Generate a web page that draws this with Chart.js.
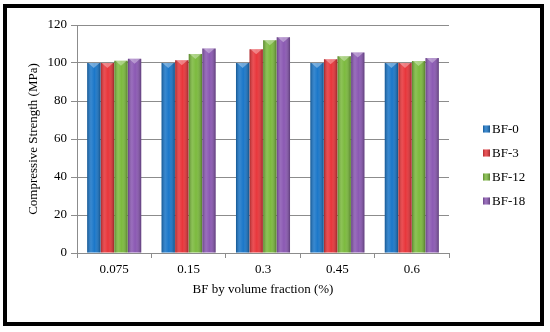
<!DOCTYPE html>
<html>
<head>
<meta charset="utf-8">
<script src="https://cdn.jsdelivr.net/npm/chart.js@4/dist/chart.umd.min.js"></script>
<style>
html,body{margin:0;padding:0;background:#fff;}
#wrap{width:550px;height:332px;position:relative;}
</style>
</head>
<body>
<div id="wrap"><canvas id="c" width="550" height="332"></canvas></div>
<script>
const categories = ["0.075", "0.15", "0.3", "0.45", "0.6"];
const seriesNames = ["BF-0", "BF-3", "BF-12", "BF-18"];
const bf0  = [100, 100, 100, 100, 100];
const bf3  = [100, 101.5, 107.2, 102, 100];
const bf12 = [101.2, 104.8, 112, 103.6, 101];
const bf18 = [102.2, 107.6, 113.6, 105.5, 102.6];
const seriesColors = ["#1b77c9", "#e8363b", "#7cba3e", "#8b59b3"];

const SERIF = "'Times New Roman', 'Liberation Serif', serif";

const framePlugin = {
  id: 'frame',
  afterDraw(chart) {
    const ctx = chart.ctx;
    ctx.save();
    ctx.strokeStyle = '#000';
    ctx.lineWidth = 4;
    ctx.strokeRect(5, 6, 537, 318);
    ctx.restore();
  }
};

const legendPlugin = {
  id: 'sideLegend',
  afterDraw(chart) {
    const ctx = chart.ctx;
    ctx.save();
    ctx.font = '13px ' + SERIF;
    ctx.textBaseline = 'middle';
    ctx.textAlign = 'left';
    chart.data.datasets.forEach((ds, i) => {
      const y = 129 + i * 24;
      const bx = chart.chartArea.right + 34;
      ctx.fillStyle = ds.backgroundColor;
      ctx.fillRect(bx, y - 3.5, 7, 7);
      const g = ctx.createLinearGradient(bx, 0, bx + 7, 0);
      g.addColorStop(0, 'rgba(0,0,0,0.25)');
      g.addColorStop(0.4, 'rgba(255,255,255,0.15)');
      g.addColorStop(1, 'rgba(0,0,0,0.3)');
      ctx.fillStyle = g;
      ctx.fillRect(bx, y - 3.5, 7, 7);
      ctx.fillStyle = '#000';
      ctx.fillText(ds.label, bx + 9, y + 0.5);
    });
    ctx.restore();
  }
};

const shadePlugin = {
  id: 'shade',
  afterDatasetsDraw(chart) {
    const ctx = chart.ctx;
    ctx.save();
    chart.data.datasets.forEach((ds, di) => {
      const meta = chart.getDatasetMeta(di);
      meta.data.forEach(bar => {
        const left = bar.x - bar.width / 2;
        const right = bar.x + bar.width / 2;
        const g = ctx.createLinearGradient(left, 0, right, 0);
        g.addColorStop(0, 'rgba(0,0,0,0.28)');
        g.addColorStop(0.3, 'rgba(255,255,255,0.12)');
        g.addColorStop(0.55, 'rgba(255,255,255,0.0)');
        g.addColorStop(1, 'rgba(0,0,0,0.32)');
        ctx.fillStyle = g;
        ctx.fillRect(left, bar.y, bar.width, bar.base - bar.y);
        ctx.fillStyle = 'rgba(255,255,255,0.35)';
        ctx.beginPath();
        ctx.moveTo(left + 1, bar.y);
        ctx.lineTo(right - 1, bar.y);
        ctx.lineTo(bar.x, bar.y + 5);
        ctx.closePath();
        ctx.fill();
      });
    });
    ctx.restore();
  }
};

new Chart(document.getElementById('c'), {
  type: 'bar',
  data: {
    labels: categories,
    datasets: [bf0, bf3, bf12, bf18].map((d, i) => ({
      label: seriesNames[i],
      data: d,
      backgroundColor: seriesColors[i],
      borderWidth: 0,
      categoryPercentage: 0.73,
      barPercentage: 0.98
    }))
  },
  options: {
    responsive: false,
    animation: false,
    layout: { padding: { left: 7, top: 25, right: 101, bottom: 0 } },
    plugins: {
      tooltip: { enabled: false },
      legend: { display: false }
    },
    scales: {
      x: {
        offset: true,
        afterFit: s => { s.height = 79; },
        grid: { display: true, drawOnChartArea: false, offset: true, tickLength: 5, color: '#8c8c8c' },
        border: { display: true, color: '#8c8c8c' },
        ticks: { color: '#000', font: { family: SERIF, size: 13 }, padding: 4 },
        title: {
          display: true,
          text: 'BF by volume fraction (%)',
          color: '#000',
          font: { family: SERIF, size: 13 },
          padding: { top: 4, bottom: 35 }
        }
      },
      y: {
        min: 0,
        max: 120,
        afterFit: s => { s.width = 70; },
        ticks: { stepSize: 20, color: '#000', font: { family: SERIF, size: 13 }, padding: 4 },
        grid: { color: '#8c8c8c', tickLength: 6 },
        border: { display: true, color: '#8c8c8c' },
        title: {
          display: true,
          text: 'Compressive Strength (MPa)',
          color: '#000',
          font: { family: SERIF, size: 13 },
          padding: { top: 19, bottom: 0 }
        }
      }
    }
  },
  plugins: [shadePlugin, legendPlugin, framePlugin]
});
</script>
</body>
</html>
